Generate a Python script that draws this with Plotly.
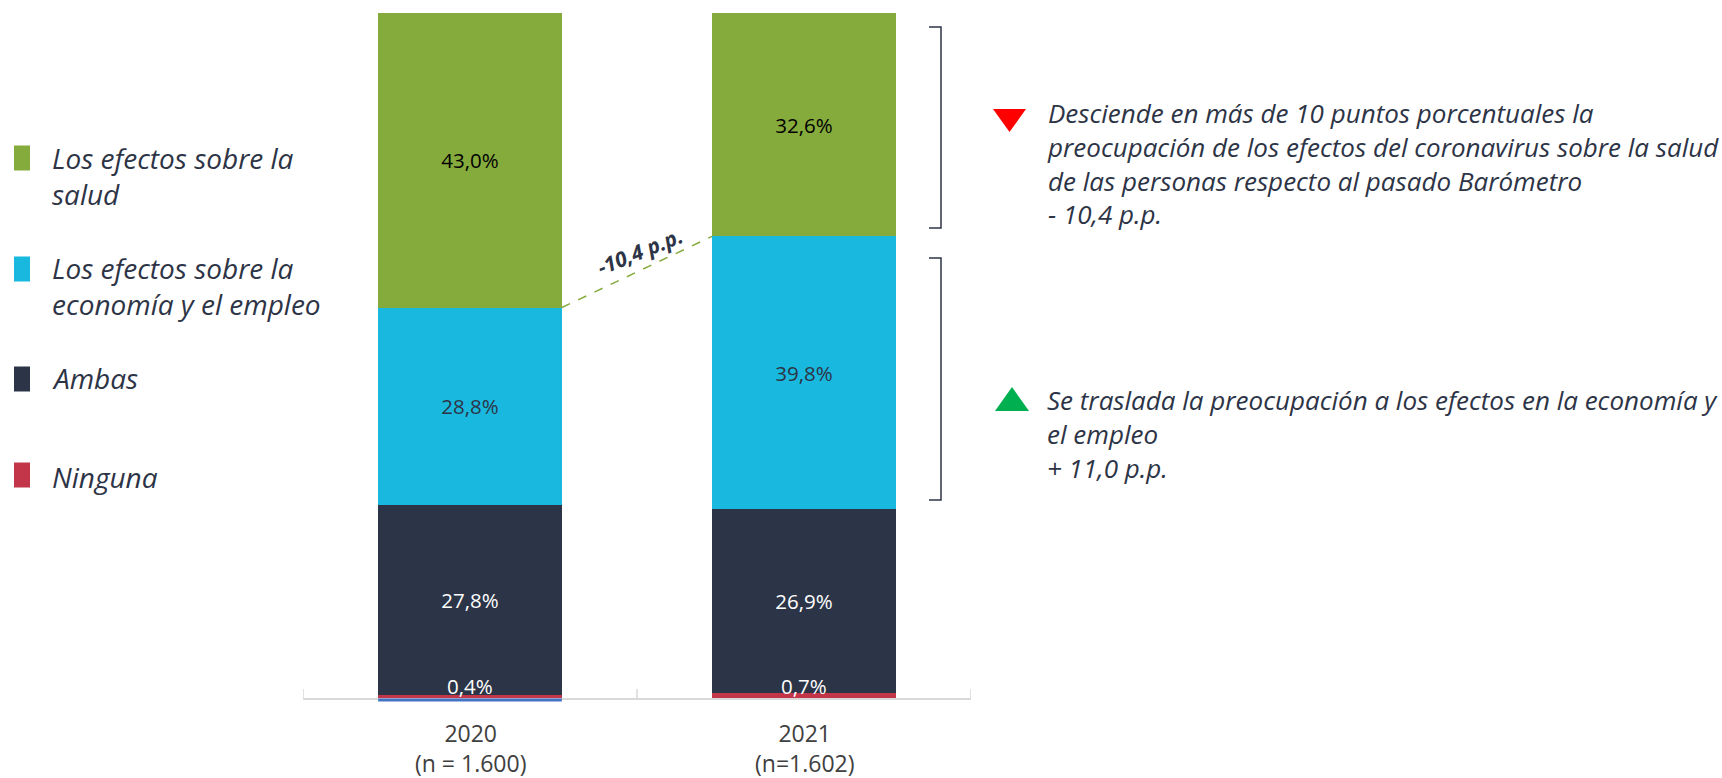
import plotly.graph_objects as go

# --- data -----------------------------------------------------------------
years = ["2020", "2021"]
year_labels = ["2020<br>(n = 1.600)", "2021<br>(n=1.602)"]

ninguna = [0.4, 0.7]
ambas = [27.8, 26.9]
economia = [28.8, 39.8]
salud = [43.0, 32.6]

series_names = [
    "Los efectos sobre la<br>salud",
    "Los efectos sobre la<br>economía y el empleo",
    "Ambas",
    "Ninguna",
]

diff_label = "-10,4 p.p."
note_down = [
    "Desciende en más de 10 puntos porcentuales la",
    "preocupación de los efectos del coronavirus sobre la salud",
    "de las personas respecto al pasado Barómetro",
    "- 10,4 p.p.",
]
note_up = [
    "Se traslada la preocupación a los efectos en la economía y",
    "el empleo",
    "+ 11,0 p.p.",
]

# --- styling --------------------------------------------------------------
C_GREEN = "#86ab3d"
C_CYAN = "#19b9df"
C_DARK = "#2c3447"
C_RED = "#c3364a"
TEXT = "#2d3446"
FONT = "Open Sans"

W, H = 1722, 778
L, R, T, B = 303, 751, 13, 80
PW, PH = W - L - R, H - T - B


def px(x):
    return (x - L) / PW


def py(y):
    return (H - B - y) / PH


def pct(v):
    return f"{v:.1f}".replace(".", ",") + "%"


LABEL_SIZE = 20.5

fig = go.Figure()

fig.add_bar(x=years, y=ninguna, marker_color=C_RED, name="Ninguna",
            textposition="none", showlegend=False)
fig.add_bar(x=years, y=ambas, marker_color=C_DARK, name="Ambas",
            text=[pct(v) for v in ambas], textposition="inside",
            insidetextanchor="middle",
            textfont=dict(color="white", size=LABEL_SIZE, family=FONT), showlegend=False)
fig.add_bar(x=years, y=economia, marker_color=C_CYAN, name="Economía",
            text=[pct(v) for v in economia], textposition="inside",
            insidetextanchor="middle",
            textfont=dict(color=TEXT, size=LABEL_SIZE, family=FONT), showlegend=False)
fig.add_bar(x=years, y=salud, marker_color=C_GREEN, name="Salud",
            text=[pct(v) for v in salud], textposition="inside",
            insidetextanchor="middle",
            textfont=dict(color="black", size=LABEL_SIZE, family=FONT), showlegend=False)

fig.update_traces(marker_line_width=0, cliponaxis=False)

annotations = []
shapes = []

# small "Ninguna" values, written just above the baseline
for i, v in enumerate(ninguna):
    annotations.append(dict(x=i, y=0, xref="x", yref="y", text=pct(v),
                            showarrow=False, yanchor="bottom", yshift=-4,
                            font=dict(color="white", size=LABEL_SIZE, family=FONT)))

# category labels under the axis
for i, lab in enumerate(year_labels):
    annotations.append(dict(x=i, y=py(748), xref="x", yref="paper", text=lab,
                            showarrow=False, yanchor="middle",
                            font=dict(color="#404040", size=23, family=FONT)))

# boundary ticks rising from the axis line
for xb in [-0.5, 0.5, 1.5]:
    shapes.append(dict(type="line", xref="x", yref="paper", x0=xb, x1=xb,
                       y0=0, y1=py(689), line=dict(color="#d9d9d9", width=1.5)))

# thin blue underline below the first bar
shapes.append(dict(type="line", xref="x", yref="paper", x0=-0.275, x1=0.275,
                   y0=py(700), y1=py(700), line=dict(color="#4472c4", width=3)))

# dashed connector between the top of the economy segment in each year
half = 0.275
y_a = ninguna[0] + ambas[0] + economia[0]
y_b = ninguna[1] + ambas[1] + economia[1]
shapes.append(dict(type="line", xref="x", yref="y", x0=0 + half, x1=1 - half,
                   y0=y_a, y1=y_b, line=dict(color=C_GREEN, width=1.5, dash="dash")))
annotations.append(dict(x=0.51, y=(y_a + y_b) / 2 + 3, xref="x", yref="y",
                        text=f"<b><i>{diff_label}</i></b>", showarrow=False,
                        textangle=-22,
                        font=dict(color=TEXT, size=21, family=FONT)))

# custom legend
legend_items = [
    (C_GREEN, series_names[0], 158, 176),
    (C_CYAN, series_names[1], 269, 286.5),
    (C_DARK, series_names[2], 379, 378),
    (C_RED, series_names[3], 475, 477),
]
for color, name, yc, ty in legend_items:
    shapes.append(dict(type="rect", xref="paper", yref="paper",
                       x0=px(14), x1=px(30), y0=py(yc + 12.5), y1=py(yc - 12.5),
                       fillcolor=color, line_width=0))
    annotations.append(dict(x=px(50), y=py(ty), xref="paper", yref="paper",
                            text=f"<i>{name}</i>", showarrow=False, align="left",
                            xanchor="left", yanchor="middle",
                            font=dict(color=TEXT, size=28, family=FONT)))

# brackets on the right of the 2021 bar
for top, bot in [(27, 228), (258, 500)]:
    shapes.append(dict(type="path", xref="paper", yref="paper",
                       path=(f"M {px(929)},{py(top)} L {px(941)},{py(top)} "
                             f"L {px(941)},{py(bot)} L {px(929)},{py(bot)}"),
                       line=dict(color=TEXT, width=1.5)))

# arrows next to the notes
shapes.append(dict(type="path", xref="paper", yref="paper",
                   path=(f"M {px(993)},{py(109)} L {px(1026)},{py(109)} "
                         f"L {px(1009.5)},{py(132)} Z"),
                   fillcolor="#ff0000", line_width=0))
shapes.append(dict(type="path", xref="paper", yref="paper",
                   path=(f"M {px(995)},{py(411)} L {px(1029)},{py(411)} "
                         f"L {px(1012)},{py(387)} Z"),
                   fillcolor="#00b050", line_width=0))

for lines, yc in [(note_down, 163.5), (note_up, 433.5)]:
    annotations.append(dict(x=px(1045), y=py(yc), xref="paper", yref="paper",
                            text="<i>" + "<br>".join(lines) + "</i>",
                            showarrow=False, align="left",
                            xanchor="left", yanchor="middle",
                            font=dict(color=TEXT, size=26, family=FONT)))

fig.update_layout(
    barmode="stack",
    bargap=0.45,
    width=W, height=H,
    margin=dict(l=L, r=R, t=T, b=B, pad=0),
    plot_bgcolor="white", paper_bgcolor="white",
    font=dict(family=FONT, color=TEXT),
    showlegend=False,
    annotations=annotations,
    shapes=shapes,
)
fig.update_xaxes(
    type="category", range=[-0.5, 1.5],
    tickmode="array", tickvals=years, ticktext=year_labels, showticklabels=False,
    ticks="", showline=True, linecolor="#d9d9d9", linewidth=2,
    showgrid=False, zeroline=False,
)
fig.update_yaxes(range=[0, 100], visible=False, showgrid=False)

fig.write_html("out.html")
